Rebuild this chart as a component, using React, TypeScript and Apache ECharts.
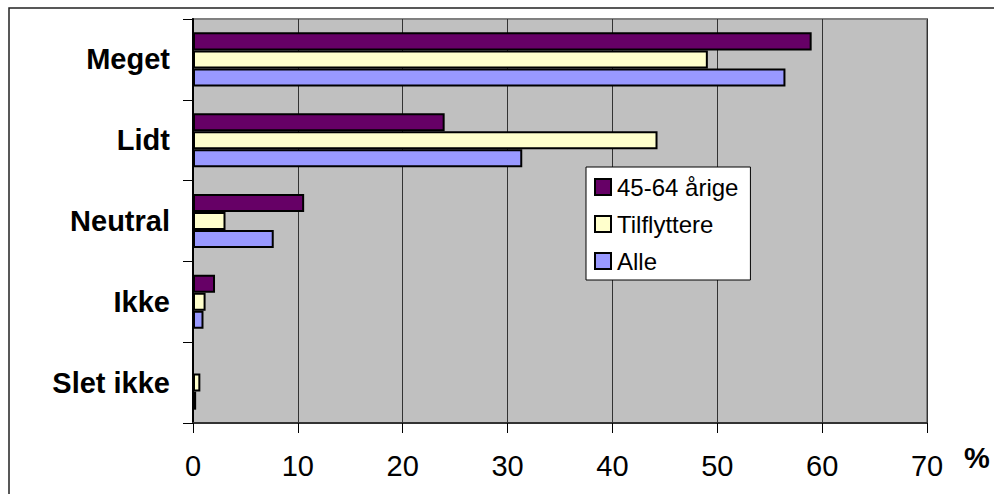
import React, { useEffect, useRef } from "react";
import * as echarts from "echarts";

const categories = ["Meget", "Lidt", "Neutral", "Ikke", "Slet ikke"];
const seriesNames = ["45-64 årige", "Tilflyttere", "Alle"];
const aged4564 = [59.0, 24.0, 10.6, 2.1, 0];
const tilflyttere = [49.1, 44.3, 3.1, 1.2, 0.7];
const alle = [56.5, 31.4, 7.7, 1.0, 0.3];
const colors = ["#660066", "#FFFFCC", "#9999FF"];
const xTicks = [0, 10, 20, 30, 40, 50, 60, 70];

const FONT = "'Liberation Sans', Arial, sans-serif";

export default function App() {
  const ref = useRef<HTMLDivElement>(null);
  useEffect(() => {
    if (!ref.current) return;
    const chart = echarts.init(ref.current, undefined, { renderer: "svg" });
    const values = [aged4564, tilflyttere, alle];
    chart.setOption({
      animation: false,
      backgroundColor: "#ffffff",
      textStyle: { fontFamily: FONT },
      grid: {
        left: 193,
        top: 19,
        width: 734,
        height: 404,
        show: true,
        backgroundColor: "#C0C0C0",
        borderColor: "#808080",
        borderWidth: 2,
      },
      legend: {
        orient: "vertical",
        left: 586,
        top: 167,
        padding: [8, 12, 7, 8],
        itemWidth: 16,
        itemHeight: 16,
        itemGap: 13,
        backgroundColor: "#ffffff",
        borderColor: "#000000",
        borderWidth: 1,
        borderRadius: 0,
        icon: "rect",
        data: seriesNames,
        textStyle: {
          fontFamily: FONT,
          fontSize: 24,
          lineHeight: 24,
          color: "#000",
          padding: [0, 0, 0, 1],
        },
      },
      xAxis: {
        type: "value",
        min: 0,
        max: 70,
        interval: 10,
        axisLine: { show: true, lineStyle: { color: "#333", width: 2 } },
        axisTick: { show: true, length: 10, lineStyle: { color: "#000", width: 1 } },
        splitLine: { show: true, lineStyle: { color: "#333", width: 1 } },
        axisLabel: {
          margin: 28,
          fontFamily: FONT,
          fontSize: 29,
          lineHeight: 30,
          color: "#000",
          formatter: (v: number) => (xTicks.includes(v) ? String(v) : ""),
        },
      },
      yAxis: {
        type: "category",
        data: categories,
        inverse: true,
        axisLine: { show: true, lineStyle: { color: "#000", width: 2 } },
        axisTick: { show: true, length: 10, lineStyle: { color: "#000", width: 1 } },
        axisLabel: {
          margin: 23,
          fontFamily: FONT,
          fontSize: 29,
          fontWeight: "bold",
          color: "#000",
        },
      },
      graphic: [
        {
          type: "rect",
          shape: { x: 9, y: 8, width: 1000, height: 500 },
          style: { fill: "none", stroke: "#222", lineWidth: 1.5 },
          silent: true,
          z: -10,
        },
        {
          type: "text",
          x: 977,
          y: 458,
          style: {
            text: "%",
            fontFamily: FONT,
            fontSize: 29,
            fontWeight: "bold",
            fill: "#000",
            align: "center",
            verticalAlign: "middle",
          },
        },
      ],
      series: seriesNames.map((name, i) => ({
        name,
        type: "bar",
        data: values[i],
        barCategoryGap: "33%",
        barGap: "0%",
        itemStyle: { color: colors[i], borderColor: "#000", borderWidth: 2 },
      })),
    });
    return () => chart.dispose();
  }, []);
  return (
    <div
      ref={ref}
      style={{ position: "fixed", left: 0, top: 0, width: 994, height: 494 }}
    />
  );
}
